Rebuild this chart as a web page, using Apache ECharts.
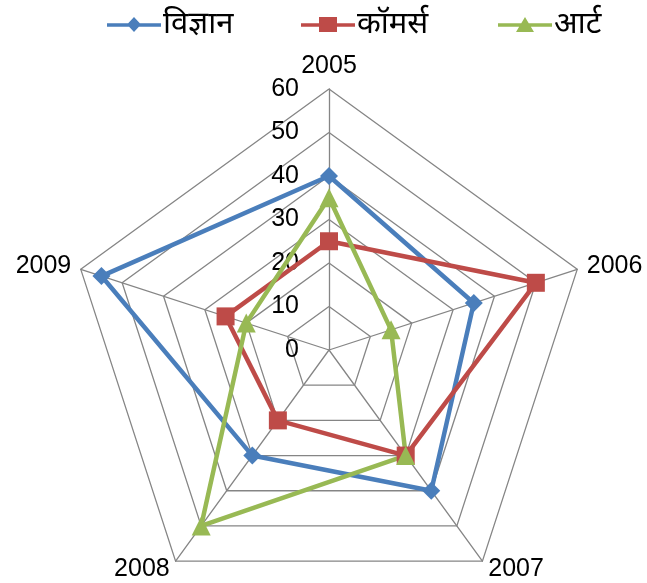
<!DOCTYPE html>
<html><head><meta charset="utf-8">
<script src="https://cdn.jsdelivr.net/npm/echarts@6/dist/echarts.min.js"></script>
<style>html,body{margin:0;padding:0;background:#fff}#c{width:647px;height:583px}</style>
</head><body><div id="c"></div>
<script>
const years = ['2005', '2006', '2007', '2008', '2009'];
const seriesNames = ['विज्ञान', 'कॉमर्स', 'आर्ट'];
const science = [40, 35, 40, 30, 55];
const commerce = [25, 50, 30, 20, 25];
const art = [35, 15, 30, 50, 20];
const tickLabels = ['0', '10', '20', '30', '40', '50', '60'];

const colors = ['#4A7EBB', '#BE4B48', '#98B954'];
const symbols = ['diamond', 'rect', 'triangle'];
const sizes = [18, 18, 19];
const legendIcons = [
  'path://M0 6.2L54 6.2L54 9.8L0 9.8Z M20 7.5L27 0L34 7.5L27 15Z',
  'path://M0 6.2L54 6.2L54 9.8L0 9.8Z M18 0L36 0L36 15L18 15Z',
  'path://M0 6.2L54 6.2L54 9.8L0 9.8Z M18 15L27 0L36 15Z'
];
const legendLefts = [102, 296, 493];
const values = [science, commerce, art];
const center = [329, 350];
const R = 261;
const font = 'Liberation Sans, Arial, sans-serif';

// ECharts lays radar indicators out counter-clockwise; reorder for clockwise display
const order = [0, 4, 3, 2, 1];

const chart = echarts.init(document.getElementById('c'));
chart.setOption({
  animation: false,
  legend: seriesNames.map((n, i) => ({
    top: 4, left: legendLefts[i], itemWidth: 54, itemHeight: 17,
    textStyle: {fontSize: 31, color: '#000', fontFamily: 'Noto Sans, sans-serif', padding: [0,0,0,-3]},
    data: [{name: n, icon: legendIcons[i]}]
  })),
  radar: {
    center: center, radius: R, startAngle: 90, shape: 'polygon', splitNumber: 6,
    indicator: order.map(k => ({name: years[k], min: 0, max: 60})),
    axisName: {color: '#000', fontSize: 25, fontFamily: font},
    nameGap: 10,
    axisLine: {lineStyle: {color: '#858585', width: 1.3}},
    splitLine: {lineStyle: {color: '#858585', width: 1.3}},
    splitArea: {show: false},
    axisLabel: {show: false}
  },
  polar: {center: center, radius: [0, R]},
  angleAxis: {show: false, startAngle: 90, min: 0, max: 360},
  radiusAxis: {
    min: 0, max: 60, interval: 10, z: 1,
    axisLine: {show: false}, axisTick: {show: false}, splitLine: {show: false},
    axisLabel: {show: true, color: '#000', fontSize: 25, fontFamily: font, margin: 30,
      formatter: v => tickLabels[v / 10]}
  },
  series: seriesNames.map((n, i) => ({
    type: 'radar', name: n, z: 3,
    symbol: symbols[i], symbolSize: sizes[i],
    lineStyle: {color: colors[i], width: 4.5},
    itemStyle: {color: colors[i]},
    data: [{value: order.map(k => values[i][k]), name: n}]
  }))
});
</script></body></html>
